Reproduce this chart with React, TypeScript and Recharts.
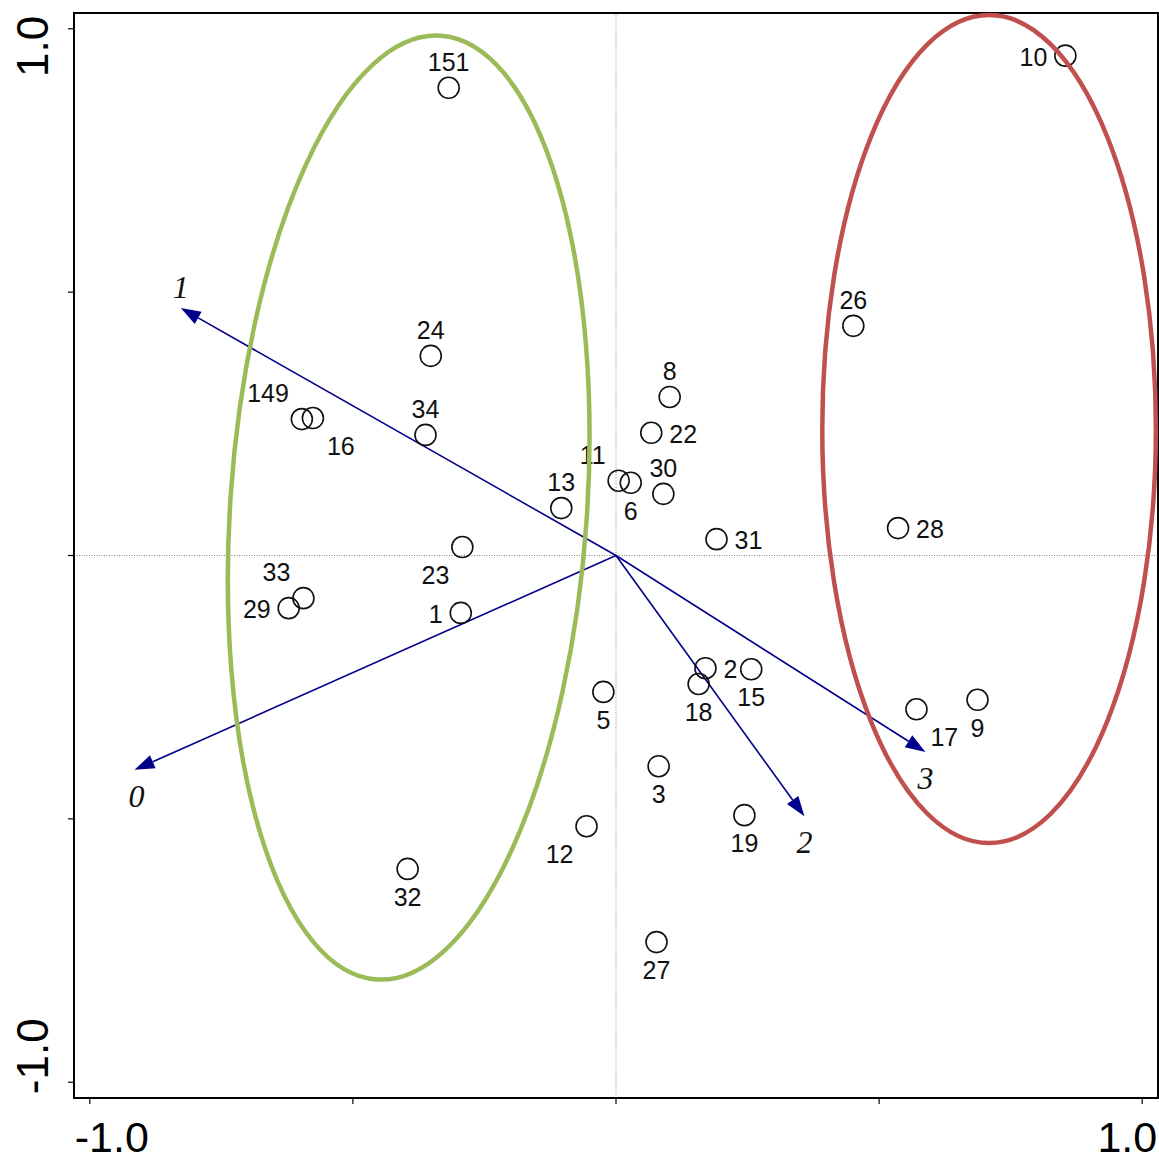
// Ordination biplot: site scores as open circles with numeric labels,
// four environmental vectors drawn as arrows from the origin, and two
// grouping ellipses (green = left group, red = right group).

import {
  ScatterChart,
  Scatter,
  XAxis,
  YAxis,
  ReferenceLine,
  ReferenceDot,
  ReferenceArea,
} from "recharts";

const W = 1159;
const H = 1157;
const MARGIN = { top: 13, right: 1, left: 0, bottom: 0 };
const Y_AXIS_W = 74;
const X_AXIS_H = 59;
const DOMAIN: [number, number] = [-1.03, 1.03];
const TICKS = [-1, -0.5, 0, 0.5, 1];

const FONT = "'Liberation Sans', Arial, sans-serif";
const ARROW_COLOR = "#00008b";

// site scores (axis 1, axis 2)
const siteNames = [
  "151", "10", "24", "26", "8", "149", "16", "34", "22", "11",
  "6", "30", "13", "31", "28", "23", "33", "29", "1", "2",
  "15", "18", "5", "17", "9", "3", "19", "12", "32", "27",
];
const siteX = [
  -0.318, 0.854, -0.352, 0.451, 0.102, -0.597, -0.576, -0.362, 0.067, 0.005,
  0.028, 0.090, -0.104, 0.191, 0.536, -0.292, -0.594, -0.622, -0.295, 0.170,
  0.257, 0.157, -0.024, 0.571, 0.687, 0.081, 0.244, -0.056, -0.396, 0.077,
];
const siteY = [
  0.888, 0.949, 0.379, 0.436, 0.301, 0.259, 0.261, 0.229, 0.233, 0.142,
  0.138, 0.117, 0.090, 0.031, 0.052, 0.016, -0.081, -0.100, -0.109, -0.214,
  -0.216, -0.244, -0.259, -0.292, -0.274, -0.400, -0.493, -0.514, -0.595, -0.734,
];

// where each site label sits relative to its circle
const labelSide: Record<string, string> = {
  "151": "t", "10": "l", "24": "t", "26": "t", "8": "t", "149": "tl", "16": "br",
  "34": "t", "22": "r", "11": "tl", "6": "b", "30": "t", "13": "t", "31": "r",
  "28": "r", "23": "bl", "33": "tl", "29": "l", "1": "l", "2": "r", "15": "b",
  "18": "b", "5": "b", "17": "br", "9": "b", "3": "b", "19": "b", "12": "bl",
  "32": "b", "27": "b",
};

const SIDES: Record<string, { anchor: "start" | "middle" | "end"; dx: number; dy: number }> = {
  t: { anchor: "middle", dx: 0, dy: -26 },
  b: { anchor: "middle", dx: 0, dy: 28 },
  l: { anchor: "end", dx: -18, dy: 1 },
  r: { anchor: "start", dx: 18, dy: 1 },
  tl: { anchor: "end", dx: -13, dy: -26 },
  bl: { anchor: "end", dx: -13, dy: 28 },
  br: { anchor: "start", dx: 14, dy: 28 },
};

// environmental vectors
const arrowNames = ["0", "1", "2", "3"];
const arrowX = [-0.915, -0.827, 0.358, 0.588];
const arrowY = [-0.407, 0.47, -0.495, -0.373];

// group ellipses (centre, semi-axes in axis units, tilt in degrees)
const ellipseCx = [-0.394, 0.709];
const ellipseCy = [0.091, 0.24];
const ellipseRx = [0.339, 0.317];
const ellipseRy = [0.898, 0.786];
const ellipseTilt = [3.9, 0];
const ellipseColors = ["#9bbb59", "#c0504d"];

const siteData = siteNames.map((name, i) => ({ name, x: siteX[i], y: siteY[i] }));

const plotW = W - MARGIN.left - MARGIN.right - Y_AXIS_W;
const plotH = H - MARGIN.top - MARGIN.bottom - X_AXIS_H;
const pxX = plotW / (DOMAIN[1] - DOMAIN[0]);
const pxY = plotH / (DOMAIN[1] - DOMAIN[0]);

function SiteMark(props: any) {
  const { cx, cy, payload } = props;
  const s = SIDES[labelSide[payload.name] ?? "t"];
  return (
    <g>
      <circle cx={cx} cy={cy} r={10.5} fill="none" stroke="#111" strokeWidth={1.6} />
      <text
        x={cx + s.dx}
        y={cy + s.dy}
        textAnchor={s.anchor}
        dominantBaseline="central"
        fontSize={25}
        fontFamily={FONT}
        fill="#111"
      >
        {payload.name}
      </text>
    </g>
  );
}

function arrowShape(name: string) {
  return (p: any) => {
    const { x1, y1, x2, y2 } = p;
    const dx = x2 - x1;
    const dy = y2 - y1;
    const len = Math.sqrt(dx * dx + dy * dy);
    const ux = dx / len;
    const uy = dy / len;
    const head = 20;
    const half = 7;
    const bx = x2 - ux * head;
    const by = y2 - uy * head;
    const pts = `${x2},${y2} ${bx - uy * half},${by + ux * half} ${bx + uy * half},${by - ux * half}`;
    const labelDy = name === "1" ? -21 : 26;
    return (
      <g>
        <line x1={x1} y1={y1} x2={bx} y2={by} stroke={ARROW_COLOR} strokeWidth={1.6} />
        <polygon points={pts} fill={ARROW_COLOR} />
        <text
          x={x2 + (name === "0" ? 2 : 0)}
          y={y2 + labelDy}
          textAnchor="middle"
          dominantBaseline="central"
          fontSize={32}
          fontStyle="italic"
          fontFamily="'Liberation Serif', 'Times New Roman', serif"
          fill="#111"
        >
          {name}
        </text>
      </g>
    );
  };
}

function ellipseShape(i: number) {
  return (p: any) => {
    const { cx, cy } = p;
    return (
      <ellipse
        cx={cx}
        cy={cy}
        rx={ellipseRx[i] * pxX}
        ry={ellipseRy[i] * pxY}
        transform={`rotate(${ellipseTilt[i]} ${cx} ${cy})`}
        fill="none"
        stroke={ellipseColors[i]}
        strokeWidth={4.5}
      />
    );
  };
}

function XTick(props: any) {
  const { x, payload } = props;
  const v = payload.value;
  if (v !== -1 && v !== 1) return null;
  return (
    <text
      x={v === -1 ? x - 15 : x + 15}
      y={1152}
      textAnchor={v === -1 ? "start" : "end"}
      fontSize={43}
      fontFamily={FONT}
      fill="#000"
    >
      {v.toFixed(1)}
    </text>
  );
}

function YTick(props: any) {
  const { y, payload } = props;
  const v = payload.value;
  if (v !== -1 && v !== 1) return null;
  const ty = v === 1 ? y - 13 : y + 12;
  return (
    <text
      x={48}
      y={ty}
      transform={`rotate(-90 48 ${ty})`}
      textAnchor={v === 1 ? "end" : "start"}
      fontSize={44}
      fontFamily={FONT}
      fill="#000"
    >
      {v.toFixed(1)}
    </text>
  );
}

export default function App() {
  return (
    <div style={{ position: "absolute", left: 0, top: 0, background: "#fff", fontFamily: FONT }}>
      <ScatterChart width={W} height={H} margin={MARGIN}>
        <XAxis
          type="number"
          dataKey="x"
          domain={DOMAIN}
          ticks={TICKS}
          allowDataOverflow
          height={X_AXIS_H}
          axisLine={{ stroke: "#000", strokeWidth: 2 }}
          tickLine={{ stroke: "#000", strokeWidth: 1.2 }}
          tickSize={6}
          tick={<XTick />}
          interval={0}
        />
        <YAxis
          type="number"
          dataKey="y"
          domain={DOMAIN}
          ticks={TICKS}
          allowDataOverflow
          width={Y_AXIS_W}
          axisLine={{ stroke: "#000", strokeWidth: 2 }}
          tickLine={{ stroke: "#000", strokeWidth: 1.2 }}
          tickSize={6}
          tick={<YTick />}
          interval={0}
        />
        <ReferenceArea
          x1={DOMAIN[0]}
          x2={DOMAIN[1]}
          y1={DOMAIN[0]}
          y2={DOMAIN[1]}
          fill="none"
          fillOpacity={0}
          stroke="#000"
          strokeWidth={2}
          ifOverflow="visible"
        />
        <ReferenceLine x={0} stroke="#888" strokeWidth={1} strokeDasharray="1 1.5" />
        <ReferenceLine y={0} stroke="#888" strokeWidth={1} strokeDasharray="1 1.5" />
        {arrowNames.map((n, i) => (
          <ReferenceLine
            key={`arrow-${n}`}
            segment={[
              { x: 0, y: 0 },
              { x: arrowX[i], y: arrowY[i] },
            ]}
            ifOverflow="visible"
            shape={arrowShape(n)}
          />
        ))}
        <Scatter data={siteData} shape={<SiteMark />} isAnimationActive={false} />
        {ellipseCx.map((cx, i) => (
          <ReferenceDot
            key={`ell-${i}`}
            x={cx}
            y={ellipseCy[i]}
            r={1}
            ifOverflow="visible"
            shape={ellipseShape(i)}
          />
        ))}
      </ScatterChart>
    </div>
  );
}
